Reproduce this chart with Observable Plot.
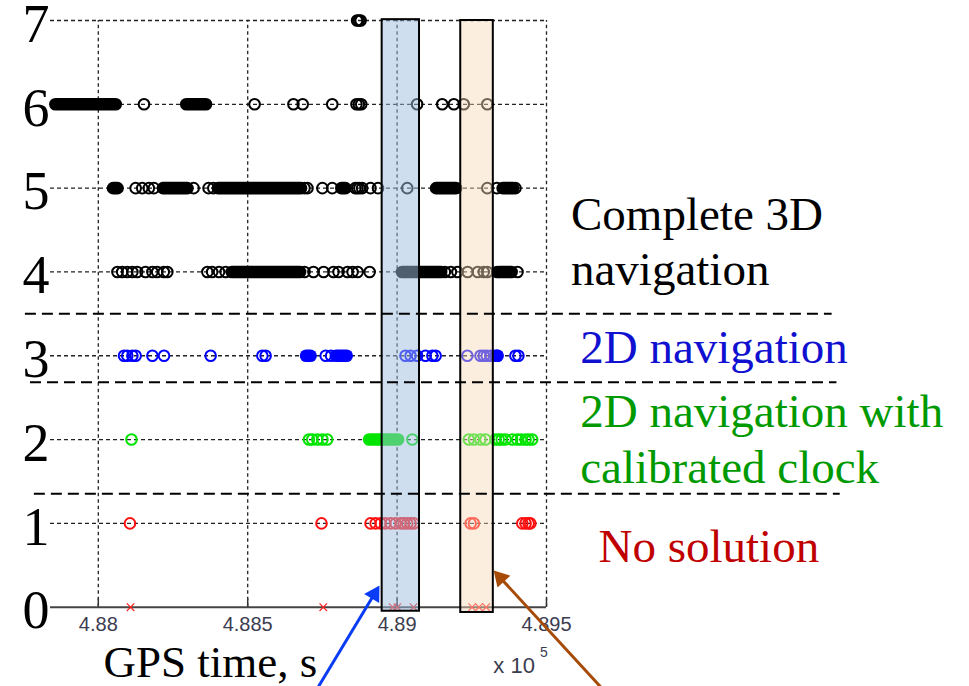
<!DOCTYPE html>
<html><head><meta charset="utf-8">
<script src="https://cdn.jsdelivr.net/npm/d3@7"></script>
<script src="https://cdn.jsdelivr.net/npm/@observablehq/plot@0.6"></script>
<style>body{margin:0;background:#fff} svg{display:block}</style>
</head><body><div id="chart"></div>
<script>
// GPS time (s) of isolated epochs at each level, plus continuous runs of epochs [start, end]
const row7Dots = [488866, 488872, 488878];
const row7Runs = [];
const row6Dots = [488153, 488523, 488653, 488684, 488783, 488864, 488872, 488880, 489067, 489151, 489190, 489223, 489302];
const row6Runs = [[487858, 488060], [488296, 488362]];
const row5Dots = [488125, 488147, 488169, 488186, 488319, 488369, 488385, 488690, 488700,
  488750, 488783, 488860, 488867, 488874, 488883, 488911, 488936, 489034, 489302, 489334, 489396];
const row5Runs = [[488051, 488066], [488218, 488300], [488402, 488680], [488815, 488829], [489132, 489199], [489355, 489390]];
const row4Dots = [488064, 488080, 488097, 488114, 488130, 488158, 488181, 488197, 488219, 488231,
  488365, 488381, 488404, 488426, 488690, 488720, 488754, 488787, 488804, 488834, 488851, 488868, 488908,
  489160, 489180, 489202, 489236, 489270, 489290, 489302, 489335, 489403];
const row4Runs = [[488448, 488677], [489018, 489149], [489343, 489385]];
const row3Dots = [488086, 488097, 488114, 488125, 488181, 488220, 488376, 488549, 488560, 488761, 488779,
  489028, 489045, 489067, 489095, 489118, 489129, 489235, 489279, 489290, 489300, 489313, 489335, 489396, 489406];
const row3Runs = [[488697, 488712], [488797, 488833], [489330, 489338]];
const row2Dots = [488111, 488705, 488716, 488733, 488750, 488766, 489051,
  489240, 489257, 489279, 489296, 489329, 489340, 489350, 489363, 489385, 489402, 489415, 489430, 489440, 489452];
const row2Runs = [[488908, 489005]];
const row1Dots = [488106, 488747, 488911, 488928, 488945, 488960, 488978, 488995, 489012, 489022, 489034, 489045, 489056, 489246, 489257, 489419, 489430, 489440, 489446];
const row1Runs = [];
const row0 = [488108, 488753, 488985, 489001, 489055, 489251, 489274, 489298];

const xTicks = [488000, 488500, 489000, 489500];
const yTicks = [0, 1, 2, 3, 4, 5, 6, 7];
const yGrid = [1, 2, 3, 4, 5, 6, 7];

// highlighted intervals
const boxX1 = [488950, 489213];
const boxX2 = [489075, 489322];
const boxY1 = [-0.048, -0.063];
const boxY2 = [7.01, 7.0];

// region separators
const sepY = [3.5, 2.685, 1.353];
const sepX1 = [487756, 487773, 487786];
const sepX2 = [490456, 490472, 490483];

// annotations
const labels = ["Complete 3D", "navigation", "2D navigation", "2D navigation with", "calibrated clock", "No solution"];
const labelX = [489582, 489582, 489613, 489613, 489613, 489674];
const labelY = [4.495, 3.839, 2.908, 2.148, 1.476, 0.537];
const labelColor = ["#000", "#000", "#1010d0", "#009a00", "#009a00", "#c00000"];

const arrowX1 = [488737, 489680];
const arrowY1 = [-0.946, -0.946];
const arrowX2 = [488941, 489323];
const arrowY2 = [0.259, 0.438];
const arrowColor = ["#0a3cf5", "#a64b08"];

const xTitle = "GPS time, s";
const xTitleX = 488017, xTitleY = -0.835;
const expText = ["x 10", "5"];
const expX = [489322, 489478], expY = [-0.791, -0.590];

const rows = [
  {dots: row7Dots, runs: row7Runs, level: 7, color: "#000"},
  {dots: row6Dots, runs: row6Runs, level: 6, color: "#000"},
  {dots: row5Dots, runs: row5Runs, level: 5, color: "#000"},
  {dots: row4Dots, runs: row4Runs, level: 4, color: "#000"},
  {dots: row3Dots, runs: row3Runs, level: 3, color: "#0000ff"},
  {dots: row2Dots, runs: row2Runs, level: 2, color: "#00e400"},
  {dots: row1Dots, runs: row1Runs, level: 1, color: "#ff1010"}
];
const idx2 = [0, 1], idx3 = [0, 1, 2], idx6 = [0, 1, 2, 3, 4, 5];
const R = 5.3, SW = 2;

const chart = Plot.plot({
  width: 969, height: 686,
  marginLeft: 50, marginRight: 423, marginTop: 20, marginBottom: 79.3,
  x: {domain: [487840, 489500]},
  y: {domain: [0, 7]},
  style: {background: "white", overflow: "visible"},
  marks: [
    Plot.ruleY(yGrid, {stroke: "#222", strokeWidth: 1.3, strokeDasharray: "4,3"}),
    Plot.ruleX(xTicks, {y1: 0, y2: 7, stroke: "#222", strokeWidth: 1.3, strokeDasharray: "3.5,3"}),
    Plot.ruleX(xTicks, {y1: 0, y2: 0.1, stroke: "#333", strokeWidth: 1.5}),
    Plot.ruleY([0], {stroke: "#444", strokeWidth: 2}),
    Plot.axisX({ticks: xTicks, tickSize: 0, tickPadding: 10, tickFormat: d => String(d / 1e5), fontSize: 20, fontFamily: "Liberation Sans", fill: "#3c3c50", label: null}),
    Plot.axisY({ticks: yTicks, tickSize: 0, tickPadding: 1, dy: 4, tickFormat: d => String(d), fontSize: 54, fontFamily: "Liberation Serif", fill: "#000", label: null}),
    ...rows.map(r => Plot.ruleY(r.runs, {x1: d => d[0], x2: d => d[1], y: () => r.level, stroke: r.color, strokeWidth: 2 * R + SW, strokeLinecap: "round"})),
    ...rows.map(r => Plot.dot(r.dots, {x: d => d, y: () => r.level, r: R, stroke: r.color, strokeWidth: SW, fill: "none"})),
    Plot.dot(row0, {x: d => d, y: () => 0, symbol: "times", r: 3.5, stroke: "#ff2020", strokeWidth: 1.2}),
    Plot.rect([0], {x1: i => boxX1[i], x2: i => boxX2[i], y1: i => boxY1[i], y2: i => boxY2[i], fill: "#9dbde0", fillOpacity: 0.5}),
    Plot.rect([1], {x1: i => boxX1[i], x2: i => boxX2[i], y1: i => boxY1[i], y2: i => boxY2[i], fill: "#f9d9b8", fillOpacity: 0.45}),
    Plot.rect(idx2, {x1: i => boxX1[i], x2: i => boxX2[i], y1: i => boxY1[i], y2: i => boxY2[i], fill: "none", stroke: "#000", strokeWidth: 2}),
    Plot.ruleY(idx3, {y: i => sepY[i], x1: i => sepX1[i], x2: i => sepX2[i], stroke: "#000", strokeWidth: 2, strokeDasharray: "11,6"}),
    Plot.text(idx6, {x: i => labelX[i], y: i => labelY[i], text: i => labels[i], fill: i => labelColor[i], textAnchor: "start", lineAnchor: "bottom", fontSize: 47, fontFamily: "Liberation Serif"}),
    Plot.arrow(idx2, {x1: i => arrowX1[i], y1: i => arrowY1[i], x2: i => arrowX2[i], y2: i => arrowY2[i], stroke: i => arrowColor[i], strokeWidth: 3, headLength: 0, insetEnd: 9}),
    Plot.dot([0], {x: i => arrowX2[i], y: i => arrowY2[i], symbol: "triangle", r: 6.5, rotate: 31, dx: -5.2, dy: 8.6, fill: arrowColor[0], stroke: "none"}),
    Plot.dot([1], {x: i => arrowX2[i], y: i => arrowY2[i], symbol: "triangle", r: 6.5, rotate: -42.6, dx: 6.9, dy: 7.4, fill: arrowColor[1], stroke: "none"}),
    Plot.text([xTitle], {x: () => xTitleX, y: () => xTitleY, text: d => d, textAnchor: "start", lineAnchor: "bottom", fontSize: 45, fontFamily: "Liberation Serif", fill: "#000"}),
    Plot.text([0], {x: i => expX[i], y: i => expY[i], text: i => expText[i], textAnchor: "start", lineAnchor: "bottom", fontSize: 22, fontFamily: "Liberation Sans", fill: "#3c3c50"}),
    Plot.text([1], {x: i => expX[i], y: i => expY[i], text: i => expText[i], textAnchor: "start", lineAnchor: "bottom", fontSize: 14, fontFamily: "Liberation Sans", fill: "#3c3c50"})
  ]
});
document.getElementById("chart").appendChild(chart);
</script>
</body></html>
